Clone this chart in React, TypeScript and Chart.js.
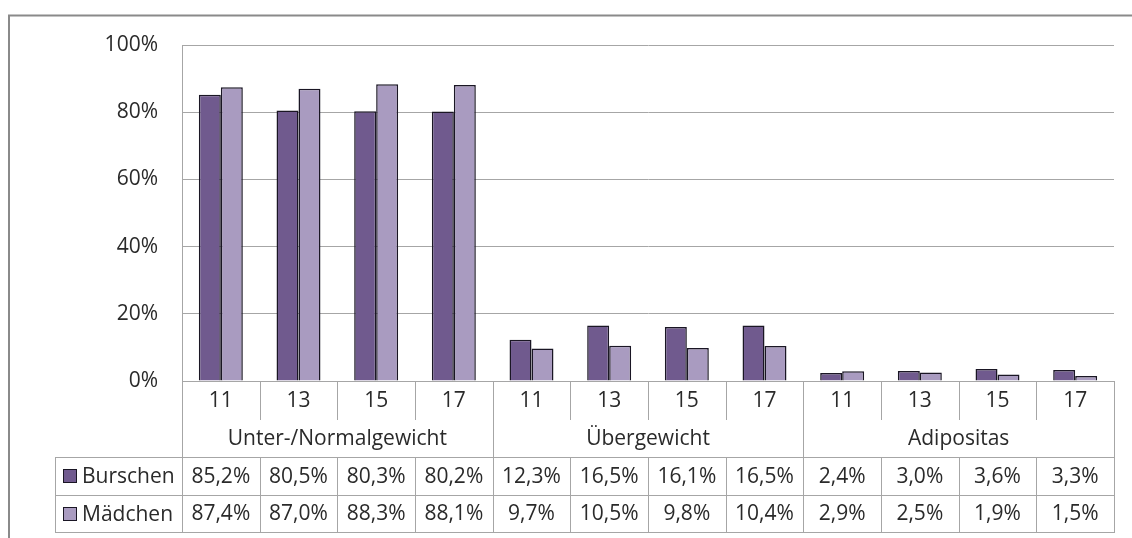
import React, { useEffect, useRef } from "react";
import { Chart, registerables } from "chart.js";

Chart.register(...registerables);

const groups = ["Unter-/Normalgewicht", "Übergewicht", "Adipositas"];
const ages = ["11", "13", "15", "17"];
const seriesNames = ["Burschen", "Mädchen"];
const burschen = [85.2, 80.5, 80.3, 80.2, 12.3, 16.5, 16.1, 16.5, 2.4, 3.0, 3.6, 3.3];
const maedchen = [87.4, 87.0, 88.3, 88.1, 9.7, 10.5, 9.8, 10.4, 2.9, 2.5, 1.9, 1.5];
const yTicks = [0, 20, 40, 60, 80, 100];

const COLORS = ["#705a8e", "#a99bc0"];
const BORDER = "#1a1624";
const GRID = "#a6a6a6";
const TEXT = "#2a2a2a";
const FONT = '21px "Open Sans"';

const fmt = (v: number) => v.toFixed(1).replace(".", ",") + "%";

const tablePlugin = {
  id: "dataTable",
  beforeDraw(chart: any) {
    const ctx = chart.ctx;
    ctx.save();
    ctx.fillStyle = "#ffffff";
    ctx.fillRect(0, 0, chart.width, chart.height);
    ctx.strokeStyle = "#8a8a8a";
    ctx.lineWidth = 2;
    ctx.beginPath();
    ctx.moveTo(9, chart.height);
    ctx.lineTo(9, 15.5);
    ctx.lineTo(chart.width, 15.5);
    ctx.stroke();
    ctx.restore();
  },
  afterDraw(chart: any) {
    const ctx = chart.ctx;
    const xs = chart.scales.x;
    const area = chart.chartArea;
    const n = xs.ticks.length;
    const bounds: number[] = [];
    for (let i = 0; i <= n; i++) {
      if (i === 0) bounds.push(area.left);
      else if (i === n) bounds.push(area.right);
      else bounds.push((xs.getPixelForValue(i - 1) + xs.getPixelForValue(i)) / 2);
    }
    const y0 = area.bottom;
    const rowA = y0 + 39;
    const rowB = y0 + 76;
    const rowC = y0 + 114;
    const rowD = y0 + 151;
    const tableLeft = 55;
    const px = (v: number) => Math.round(v) + 0.5;

    ctx.save();
    ctx.strokeStyle = GRID;
    ctx.lineWidth = 1;
    ctx.beginPath();
    bounds.forEach((b, i) => {
      const isGroup = i % ages.length === 0;
      if (isGroup) {
        ctx.moveTo(px(b), y0);
        ctx.lineTo(px(b), rowD);
      } else {
        ctx.moveTo(px(b), y0);
        ctx.lineTo(px(b), rowA);
        ctx.moveTo(px(b), rowB);
        ctx.lineTo(px(b), rowD);
      }
    });
    [rowB, rowC, rowD].forEach((y) => {
      ctx.moveTo(tableLeft, px(y));
      ctx.lineTo(px(area.right) + 0.5, px(y));
    });
    ctx.moveTo(px(tableLeft), rowB);
    ctx.lineTo(px(tableLeft), rowD);
    ctx.stroke();

    ctx.font = FONT;
    ctx.fillStyle = TEXT;
    ctx.textAlign = "center";
    ctx.textBaseline = "middle";
    for (let i = 0; i < n; i++) {
      const cx = (bounds[i] + bounds[i + 1]) / 2;
      ctx.fillText(ages[i % ages.length], cx, (y0 + rowA) / 2 + 1);
      ctx.fillText(fmt(burschen[i]), cx, (rowB + rowC) / 2 + 1);
      ctx.fillText(fmt(maedchen[i]), cx, (rowC + rowD) / 2 + 1);
    }
    groups.forEach((g, gi) => {
      const l = bounds[gi * ages.length];
      const r = bounds[(gi + 1) * ages.length];
      ctx.fillText(g, (l + r) / 2, (rowA + rowB) / 2 + 1);
    });
    ctx.textAlign = "left";
    [rowB, rowC].forEach((top, si) => {
      const cy = top + 19;
      ctx.fillStyle = COLORS[si];
      ctx.fillRect(63, cy - 7, 14, 14);
      ctx.strokeStyle = BORDER;
      ctx.lineWidth = 1;
      ctx.strokeRect(63.5, cy - 6.5, 13, 13);
      ctx.fillStyle = TEXT;
      ctx.fillText(seriesNames[si], 82, cy + 1);
    });
    ctx.restore();
  },
};

export default function App() {
  const ref = useRef<HTMLCanvasElement>(null);
  useEffect(() => {
    if (!ref.current) return;
    const labels = groups.flatMap(() => ages);
    const chart = new Chart(ref.current, {
      type: "bar",
      data: {
        labels,
        datasets: [
          {
            label: seriesNames[0],
            data: burschen,
            backgroundColor: COLORS[0],
            borderColor: BORDER,
            borderWidth: 1.5,
          },
          {
            label: seriesNames[1],
            data: maedchen,
            backgroundColor: COLORS[1],
            borderColor: BORDER,
            borderWidth: 1.5,
          },
        ],
      },
      options: {
        animation: false,
        responsive: false,
        devicePixelRatio: 1,
        layout: { padding: { left: 0, top: 45, right: 18, bottom: 157 } },
        plugins: { legend: { display: false }, tooltip: { enabled: false } },
        datasets: { bar: { categoryPercentage: 0.566, barPercentage: 1 } },
        scales: {
          x: { display: false },
          y: {
            min: 0,
            max: 100,
            afterBuildTicks: (s: any) => {
              s.ticks = yTicks.map((v) => ({ value: v }));
            },
            afterFit: (s: any) => {
              s.width = 182;
            },
            grid: { color: GRID, drawTicks: false, lineWidth: 1 },
            border: { display: true, color: GRID },
            ticks: {
              padding: 24,
              color: TEXT,
              font: { family: "Open Sans", size: 21 },
              callback: (v: any) => v + "%",
            },
          },
        },
      },
      plugins: [tablePlugin],
    });
    return () => chart.destroy();
  }, []);
  return (
    <div style={{ position: "absolute", left: 0, top: 0, width: 1132, height: 538 }}>
      <canvas ref={ref} width={1132} height={538} style={{ display: "block" }} />
    </div>
  );
}
